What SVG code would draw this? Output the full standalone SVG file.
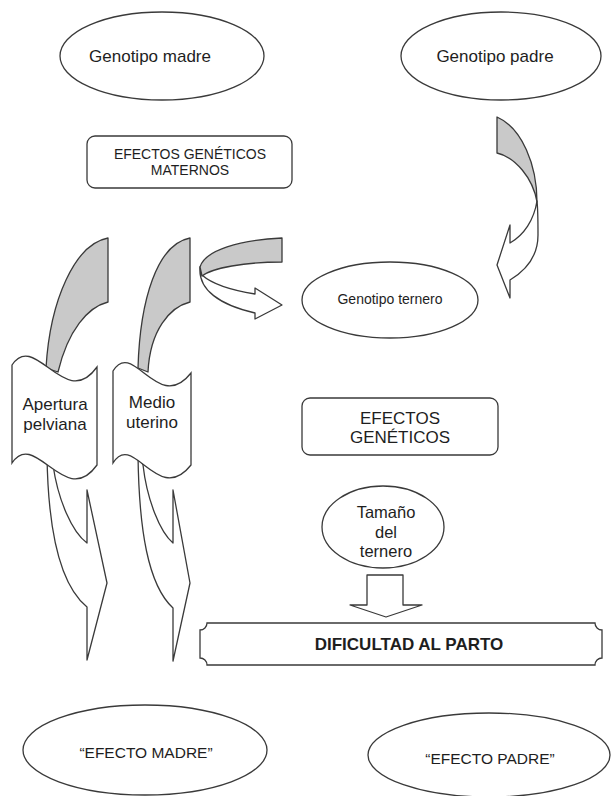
<svg xmlns="http://www.w3.org/2000/svg" width="611" height="796" viewBox="0 0 611 796">
<style>
.s{fill:#fff;stroke:#3a3a3a;stroke-width:1.3}
.g{fill:#c9c9c9;stroke:#3a3a3a;stroke-width:1.3;stroke-linejoin:round}
.w{fill:#fff;stroke:#3a3a3a;stroke-width:1.3;stroke-linejoin:round}
text{font-family:"Liberation Sans",Arial,sans-serif;fill:#1e1e1e;text-anchor:middle}
</style>
<rect width="611" height="796" fill="#fff"/>
<g id="connectors">
<path class="w" d="M537,201 C534,220 524,235 510,243 L510,225 L497,265 L510,298 L510,280 C530,268 538,252 538,235 C538,222 538,210 537,201 Z"/>
<path class="g" d="M497,117 L497,153 C515,157 533,178 537,202 C537,165 522,128 497,117 Z"/>
<path class="w" d="M200,267 C198,290 220,305 255,313 L255,319 L282,305 L255,288 L255,294 C230,290 212,284 202,275 Z"/>
<path class="g" d="M282,238 L282,262 C245,262 212,268 202,276 L200,267 C205,250 240,240 282,238 Z"/>
<path class="g" d="M108,238 L108,302 C88,307 68,330 58,372 L46,368 C50,300 75,244 108,238 Z"/>
<path class="g" d="M190,238 L190,302 C170,307 150,330 148,372 L138,368 C140,300 157,244 190,238 Z"/>
<path class="w" d="M47,455 C48,530 60,585 87,607 L87,660 L107,583 L87,490 L87,543 C72,532 58,500 53,465 Z"/>
<path class="w" d="M138,455 C139,530 148,585 173,608 L173,661 L190,583 L173,490 L173,543 C160,532 147,500 143,465 Z"/>
<path class="w" d="M367,575 L403,575 L403,605 L422,605 L386,617 L350,605 L367,605 Z"/>
</g>
<g id="genotipo-madre">
<ellipse class="s" cx="162" cy="56" rx="102" ry="44"/>
<text x="150" y="62" font-size="17">Genotipo madre</text>
</g>
<g id="genotipo-padre">
<ellipse class="s" cx="501" cy="56" rx="100" ry="44"/>
<text x="495" y="62" font-size="17">Genotipo padre</text>
</g>
<g id="efectos-maternos">
<rect class="s" x="87" y="136" width="205" height="52" rx="8"/>
<text x="190" y="159" font-size="14">EFECTOS GENÉTICOS</text>
<text x="190" y="175" font-size="14">MATERNOS</text>
</g>
<g id="apertura">
<path class="s" d="M12,365 C35,330 65,412 97,367 L97,465 C65,510 35,428 12,463 Z"/>
<text x="55" y="410" font-size="17">Apertura</text>
<text x="55" y="430" font-size="17">pelviana</text>
</g>
<g id="medio">
<path class="s" d="M113,371 C133,338 158,415 191,373 L191,465 C158,507 133,430 113,463 Z"/>
<text x="152" y="408" font-size="17">Medio</text>
<text x="152" y="428" font-size="17">uterino</text>
</g>
<g id="genotipo-ternero">
<ellipse class="s" cx="390" cy="300" rx="88" ry="38"/>
<text x="390" y="304" font-size="14">Genotipo ternero</text>
</g>
<g id="efectos-geneticos">
<rect class="s" x="302" y="398" width="196" height="57" rx="8"/>
<text x="400" y="424" font-size="17">EFECTOS</text>
<text x="400" y="443" font-size="17">GENÉTICOS</text>
</g>
<g id="tamano">
<ellipse class="s" cx="383" cy="527" rx="61" ry="41"/>
<text x="386" y="518" font-size="16.5">Tamaño</text>
<text x="386" y="538" font-size="16.5">del</text>
<text x="386" y="557" font-size="16.5">ternero</text>
</g>
<g id="dificultad">
<path class="s" d="M207,623 L595,623 A7,7 0 0 0 602,630 L602,658 A7,7 0 0 0 595,665 L207,665 A7,7 0 0 0 200,658 L200,630 A7,7 0 0 0 207,623 Z"/>
<text x="409" y="650" font-size="17" font-weight="bold">DIFICULTAD AL PARTO</text>
</g>
<g id="efecto-madre">
<ellipse class="s" cx="145" cy="750" rx="122" ry="45"/>
<text x="146" y="758" font-size="15.5">“EFECTO MADRE”</text>
</g>
<g id="efecto-padre">
<ellipse class="s" cx="489" cy="755" rx="121" ry="42"/>
<text x="490" y="764" font-size="15.5">“EFECTO PADRE”</text>
</g>
</svg>
